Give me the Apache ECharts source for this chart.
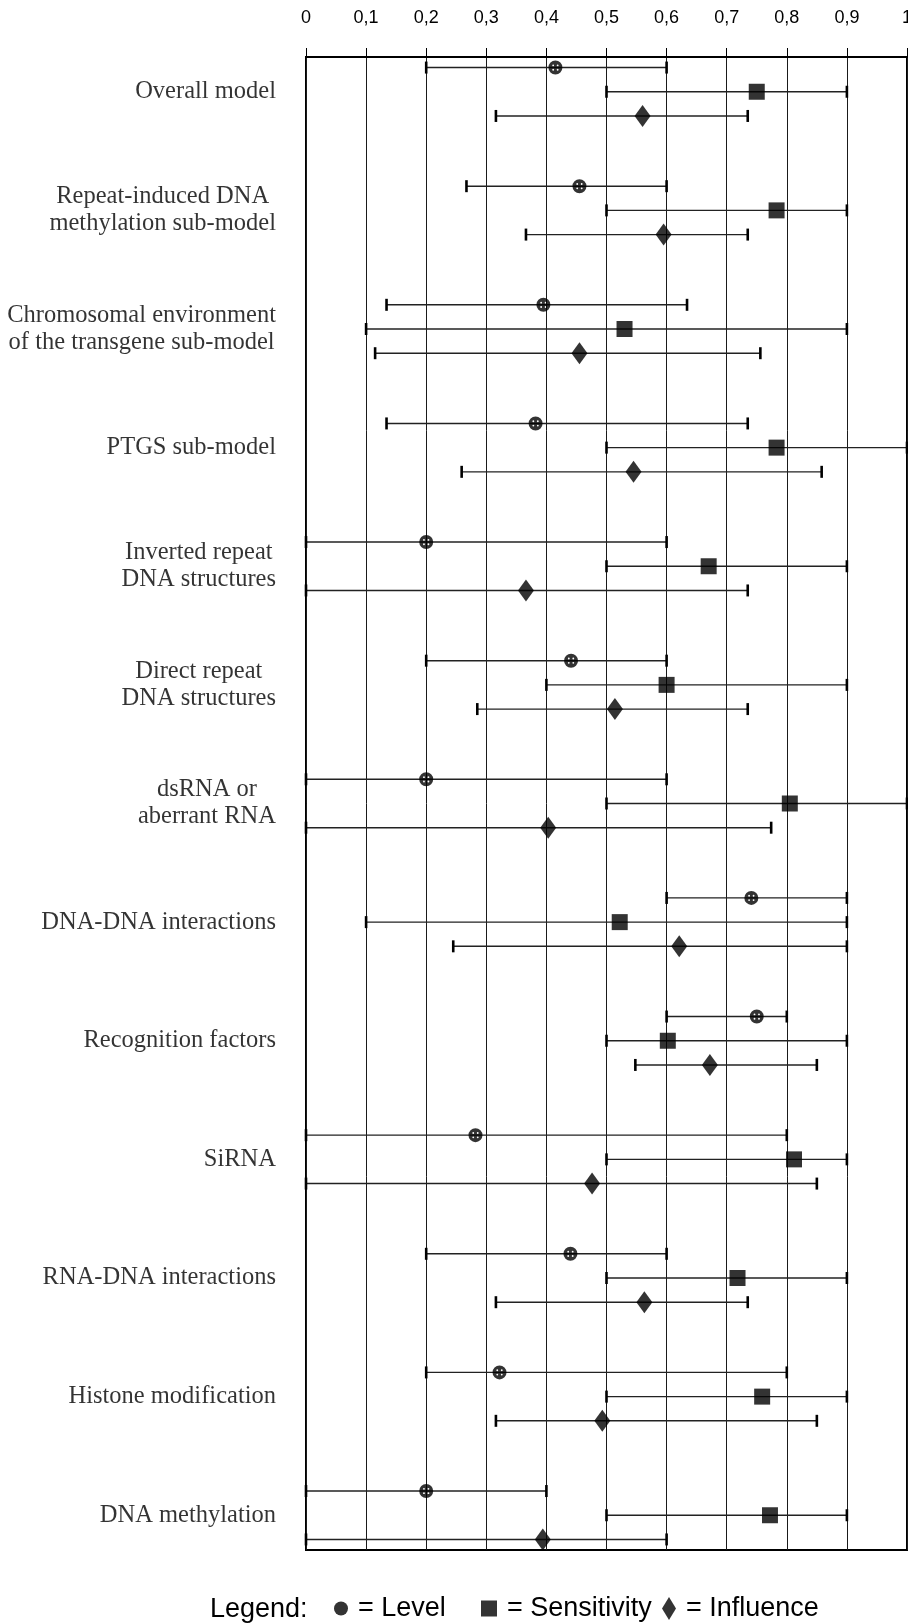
<!DOCTYPE html>
<html>
<head>
<meta charset="utf-8">
<script src="https://cdn.jsdelivr.net/npm/echarts@6/dist/echarts.min.js"></script>
<style>
  html, body { margin: 0; padding: 0; background: #fff; }
  #chart { width: 908px; height: 1623px; }
</style>
</head>
<body>
<div id="chart"></div>
<script>
// categories, top to bottom
const categories = [
  'Overall model',
  'Repeat-induced DNA\nmethylation sub-model',
  'Chromosomal environment\nof the transgene sub-model',
  'PTGS sub-model',
  'Inverted repeat\nDNA structures',
  'Direct repeat\nDNA structures',
  'dsRNA or\naberrant RNA',
  'DNA-DNA interactions',
  'Recognition factors',
  'SiRNA',
  'RNA-DNA interactions',
  'Histone modification',
  'DNA methylation'
];

// [low, estimate, high]
const level = [
  [0.2, 0.415, 0.6], [0.267, 0.455, 0.6], [0.134, 0.395, 0.634], [0.134, 0.382, 0.735],
  [0, 0.2, 0.6], [0.2, 0.441, 0.6], [0, 0.2, 0.6], [0.6, 0.741, 0.9],
  [0.6, 0.75, 0.8], [0, 0.282, 0.8], [0.2, 0.44, 0.6], [0.2, 0.322, 0.8], [0, 0.2, 0.4]
];
const sensitivity = [
  [0.5, 0.75, 0.9], [0.5, 0.783, 0.9], [0.1, 0.53, 0.9], [0.5, 0.783, 1],
  [0.5, 0.67, 0.9], [0.4, 0.6, 0.9], [0.5, 0.805, 1], [0.1, 0.522, 0.9],
  [0.5, 0.602, 0.9], [0.5, 0.812, 0.9], [0.5, 0.718, 0.9], [0.5, 0.759, 0.9], [0.5, 0.772, 0.9]
];
const influence = [
  [0.316, 0.56, 0.735], [0.366, 0.595, 0.735], [0.115, 0.455, 0.756], [0.259, 0.545, 0.858],
  [0, 0.366, 0.735], [0.285, 0.514, 0.735], [0, 0.403, 0.774], [0.245, 0.621, 0.9],
  [0.548, 0.672, 0.85], [0, 0.476, 0.85], [0.316, 0.563, 0.735], [0.316, 0.493, 0.85], [0, 0.394, 0.6]
];

const xTickLabels = ['0', '0,1', '0,2', '0,3', '0,4', '0,5', '0,6', '0,7', '0,8', '0,9', '1'];

const ROW = 0.204; // row offset inside a group
const LABEL_FONT = '24.5px "Liberation Serif"';

// black dot with four small holes
const dotSymbol = 'path://M10 0A10 10 0 1 1 10 20A10 10 0 1 1 10 0Z' +
  'M6.8 5.6A1.3 1.3 0 1 0 6.8 8.2A1.3 1.3 0 1 0 6.8 5.6Z' +
  'M13.2 5.6A1.3 1.3 0 1 0 13.2 8.2A1.3 1.3 0 1 0 13.2 5.6Z' +
  'M6.8 11.8A1.3 1.3 0 1 0 6.8 14.4A1.3 1.3 0 1 0 6.8 11.8Z' +
  'M13.2 11.8A1.3 1.3 0 1 0 13.2 14.4A1.3 1.3 0 1 0 13.2 11.8Z';

const measure = document.createElement('canvas').getContext('2d');
measure.font = LABEL_FONT;
const textWidth = (s) => Math.max(...s.split('\n').map(l => measure.measureText(l).width));

const bars = (arr, k) => arr.map((d, i) => [i + k * ROW, d[0], d[2]]);
const points = (arr, k) => arr.map((d, i) => [d[1], i + k * ROW]);

// error bar: line with two end caps
const renderBar = (params, api) => {
  const y = api.value(0);
  const a = api.coord([api.value(1), y]);
  const b = api.coord([api.value(2), y]);
  const capW = 2.6, capH = 12;
  return {
    type: 'group',
    children: [
      { type: 'line', shape: { x1: a[0], y1: a[1], x2: b[0], y2: b[1] },
        style: { stroke: '#222', lineWidth: 1.4 } },
      { type: 'rect', shape: { x: a[0] - capW / 2, y: a[1] - capH / 2, width: capW, height: capH },
        style: { fill: '#000' } },
      { type: 'rect', shape: { x: b[0] - capW / 2, y: b[1] - capH / 2, width: capW, height: capH },
        style: { fill: '#000' } }
    ]
  };
};

const barSeries = (arr, k) => ({
  type: 'custom',
  renderItem: renderBar,
  data: bars(arr, k),
  encode: { x: [1, 2], y: 0 },
  silent: true,
  z: 2
});

const chart = echarts.init(document.getElementById('chart'));

const legendText = { fontFamily: '"Liberation Sans"', fontSize: 27, color: '#000', padding: [0, 0, 0, 5] };
const legendBase = {
  top: 1590,
  orient: 'horizontal',
  formatter: '= {name}',
  textStyle: legendText,
  selectedMode: false,
  itemStyle: { color: '#000' }
};

chart.setOption({
  animation: false,
  grid: {
    left: 306, right: 1, top: 57, bottom: 73,
    outerBoundsMode: 'none',
    containLabel: false,
    show: true, borderColor: '#000', borderWidth: 2
  },
  xAxis: {
    type: 'value',
    position: 'top',
    min: 0, max: 1, interval: 0.1,
    axisLine: { show: true, onZero: false, lineStyle: { color: '#000', width: 2 } },
    axisTick: { show: true, inside: false, length: 9, lineStyle: { color: '#000', width: 1 } },
    axisLabel: {
      margin: 30,
      color: '#000',
      fontFamily: '"Liberation Sans"',
      fontSize: 18,
      formatter: (v, i) => xTickLabels[i]
    },
    splitLine: { show: true, lineStyle: { color: '#1a1a1a', width: 1 } }
  },
  yAxis: {
    type: 'value',
    inverse: true,
    min: -0.293, max: 12.293,
    show: false
  },
  legend: [
    Object.assign({}, legendBase, { left: 329, data: [{ name: 'Level', icon: 'circle' }], itemWidth: 14, itemHeight: 14 }),
    Object.assign({}, legendBase, { left: 476, data: [{ name: 'Sensitivity', icon: 'rect' }], itemWidth: 16, itemHeight: 16 }),
    Object.assign({}, legendBase, { left: 657, data: [{ name: 'Influence', icon: 'diamond' }], itemWidth: 14, itemHeight: 23 })
  ],
  graphic: [{
    type: 'text',
    left: 210,
    top: 1596,
    style: { text: 'Legend:', font: '27px "Liberation Sans"', fill: '#000' }
  }],
  series: [
    barSeries(level, -1),
    barSeries(sensitivity, 0),
    barSeries(influence, 1),
    {
      name: 'Level', type: 'scatter', symbol: dotSymbol, symbolSize: 14,
      itemStyle: { color: '#000' }, data: points(level, -1), z: 3, silent: true
    },
    {
      name: 'Sensitivity', type: 'scatter', symbol: 'rect', symbolSize: 16,
      itemStyle: { color: '#000' }, data: points(sensitivity, 0), z: 3, silent: true
    },
    {
      name: 'Influence', type: 'scatter', symbol: 'diamond', symbolSize: [16, 22],
      itemStyle: { color: '#000' }, data: points(influence, 1), z: 3, silent: true
    },
    {
      // category labels left of the plot
      type: 'scatter',
      symbolSize: 0,
      silent: true,
      itemStyle: { color: 'transparent' },
      data: categories.map((c, i) => ({
        name: c,
        value: [0, i],
        label: { offset: [-textWidth(c) / 2, 0] }
      })),
      label: {
        show: true,
        position: 'left',
        distance: 30,
        align: 'center',
        formatter: '{b}',
        color: '#000',
        fontFamily: '"Liberation Serif"',
        fontSize: 24.5,
        lineHeight: 27
      }
    }
  ]
});
</script>
</body>
</html>
